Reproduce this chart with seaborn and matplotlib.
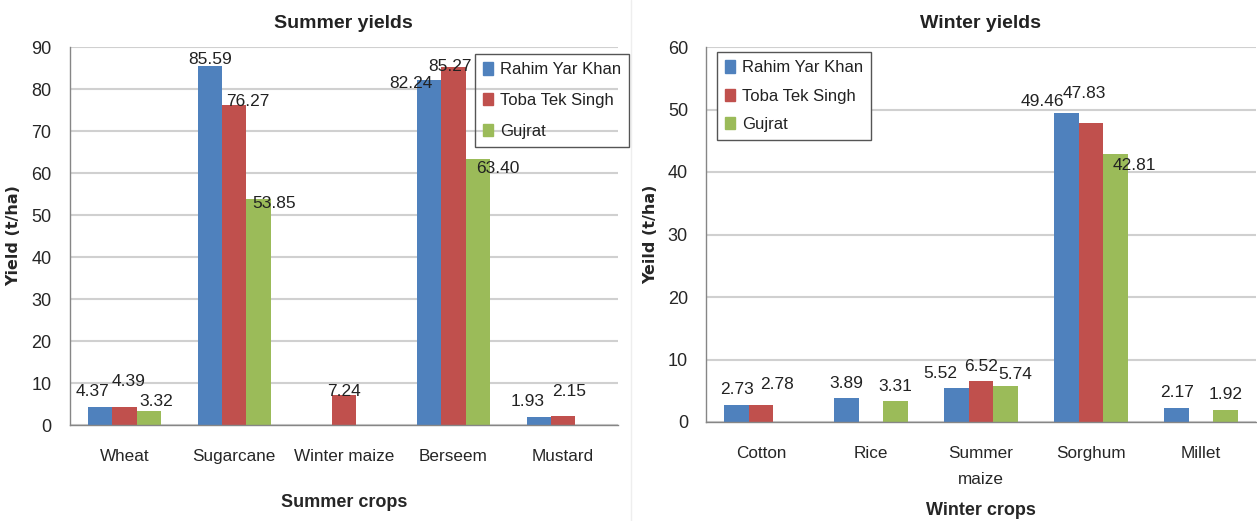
import numpy as np
import pandas as pd
import seaborn as sns
import matplotlib.pyplot as plt
from matplotlib.lines import Line2D

# data
sites = ["Rahim Yar Khan", "Toba Tek Singh", "Gujrat"]

summer_crops = ["Wheat", "Sugarcane", "Winter maize", "Berseem", "Mustard"]
summer_ryk = [4.37, 85.59, np.nan, 82.24, 1.93]
summer_tts = [4.39, 76.27, 7.24, 85.27, 2.15]
summer_guj = [3.32, 53.85, np.nan, 63.40, np.nan]

winter_crops = ["Cotton", "Rice", "Summer\nmaize", "Sorghum", "Millet"]
winter_ryk = [2.73, 3.89, 5.52, 49.46, 2.17]
winter_tts = [2.78, np.nan, 6.52, 47.83, np.nan]
winter_guj = [np.nan, 3.31, 5.74, 42.81, 1.92]

colors = ["#4F81BD", "#C0504D", "#9BBB59"]

# hand nudges of the value labels (dx px, gap px above bar top), like in the original
summer_nudge = {
    (0, 0): (-8, 12), (0, 1): (4, 22), (0, 2): (8, 6),
    (1, 0): (0, 3), (1, 1): (14, 0), (1, 2): (16, -8),
    (2, 1): (0, 0),
    (3, 0): (-18, -7), (3, 1): (-3, -3), (3, 2): (20, -13),
    (4, 0): (-11, 12), (4, 1): (6, 21),
}
winter_nudge = {
    (0, 0): (0, 12), (0, 1): (16, 17),
    (1, 0): (0, 11), (1, 2): (0, 11),
    (2, 0): (-16, 11), (2, 1): (0, 11), (2, 2): (10, 8),
    (3, 0): (-24, 8), (3, 1): (-7, 26), (3, 2): (19, -15),
    (4, 0): (0, 12), (4, 2): (0, 12),
}


def long_table(crops, ryk, tts, guj):
    rows = []
    for vals, site in zip([ryk, tts, guj], sites):
        for c, v in zip(crops, vals):
            if not np.isnan(v):
                rows.append({"crop": c, "site": site, "yield": v})
    return pd.DataFrame(rows)


sns.set_style("white")
plt.rcParams['font.family'] = ['Liberation Sans', 'DejaVu Sans']
plt.rcParams['text.color'] = '#222222'

fig = plt.figure(figsize=(12.57, 5.21), dpi=100)
W, H = 1257, 521
ax1 = fig.add_axes([69.5 / W, 1 - 425 / H, 548.5 / W, 378 / H])
ax2 = fig.add_axes([706 / W, 1 - 422 / H, 550 / W, 375 / H])

grid_col = "#D0D0D0"
axis_col = "#868686"


def draw(ax, crops, ryk, tts, guj, ymax, nudge, title, xlabel, ylabel, xpad):
    df = long_table(crops, ryk, tts, guj)
    sns.barplot(data=df, x="crop", y="yield", hue="site", order=crops,
                hue_order=sites, palette=colors, width=0.665, saturation=1,
                ax=ax, legend=False, edgecolor="none", linewidth=0)
    for k, cont in enumerate(ax.containers):
        anns = ax.bar_label(cont, fmt="%.2f", fontsize=12.5, padding=5)
        for bar, ann in zip(cont, anns):
            ci = int(round(bar.get_x() + bar.get_width() / 2))
            dx, gap = nudge.get((ci, k), (0, 11))
            ann.xyann = (dx * 0.72, (gap - 4) * 0.72)
    ax.set_ylim(0, ymax)
    ax.set_xlim(-0.5, len(crops) - 0.5)
    ax.set_yticks(np.arange(0, ymax + 1, 10))
    ax.yaxis.grid(True, color=grid_col, linewidth=1.5)
    ax.set_axisbelow(True)
    for s in ["top", "right"]:
        ax.spines[s].set_visible(False)
    for s in ["left", "bottom"]:
        ax.spines[s].set_color(axis_col)
        ax.spines[s].set_linewidth(1.0)
    ax.set_xticks(np.arange(-0.5, len(crops)), minor=True)
    ax.tick_params(axis="x", which="major", length=0, pad=17, labelsize=12.3)
    ax.tick_params(axis="x", which="minor", length=6, color=axis_col, direction="out")
    ax.tick_params(axis="y", length=5, color=axis_col, direction="out", pad=8, labelsize=13)
    ax.set_title(title, fontsize=14, fontweight="bold", pad=14)
    ax.set_xlabel(xlabel, fontsize=13, fontweight="bold", labelpad=xpad)
    ax.set_ylabel(ylabel, fontsize=11.5, fontweight="bold", family="DejaVu Sans", labelpad=7)


draw(ax1, summer_crops, summer_ryk, summer_tts, summer_guj, 90, summer_nudge,
     "Summer yields", "Summer crops", "Yield (t/ha)", 22)
draw(ax2, winter_crops, winter_ryk, winter_tts, winter_guj, 60, winter_nudge,
     "Winter yields", "Winter crops", "Yeild (t/ha)", 11)

handles = [plt.Rectangle((0, 0), 1, 1, color=c) for c in colors]
for ax, (x0, y0), spacing, opaque in [(ax1, (475, 54), 0.95, False),
                                      (ax2, (717, 52), 0.8, True)]:
    leg = ax.legend(handles, sites, loc="upper left",
                    bbox_to_anchor=(x0 / W, 1 - y0 / H), bbox_transform=fig.transFigure,
                    borderaxespad=0, fontsize=12, frameon=True, fancybox=False,
                    handlelength=0.55, handleheight=0.75, handletextpad=0.45,
                    labelspacing=spacing, borderpad=0.5, framealpha=1)
    leg.get_frame().set_edgecolor("#555555")
    leg.get_frame().set_linewidth(1.0)
    leg.get_frame().set_facecolor("white" if opaque else "none")

fig.add_artist(Line2D([631 / W, 631 / W], [0, 1], color="#EEEEEE", linewidth=1))

# two-line tick label gets Excel-like line spacing (ticks exist after a draw)
fig.canvas.draw()
for t in ax2.get_xticklabels():
    t.set_linespacing(1.95)

fig.savefig("out.png", dpi=100)
